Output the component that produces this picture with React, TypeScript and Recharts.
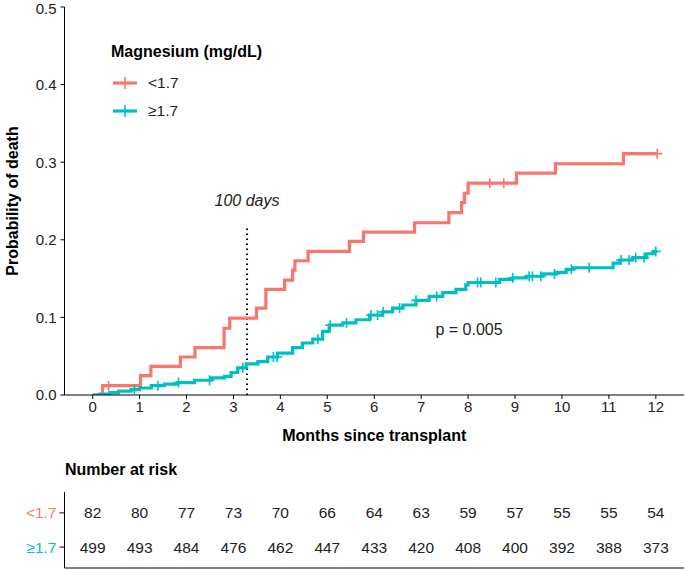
import React from 'react';
import {
  ComposedChart,
  Line,
  Scatter,
  XAxis,
  YAxis,
  ReferenceLine,
  ReferenceDot,
  Legend,
} from 'recharts';

const FONT = '"Liberation Sans", Arial, Helvetica, sans-serif';
const RED = '#F8766D';
const TEAL = '#00BFC4';
const TXT = '#222222';

// Kaplan-Meier style cumulative incidence, Mg < 1.7
const lowTimes = [0, 0.21, 1.02, 1.24, 1.87, 2.18, 2.8, 2.92, 3.49, 3.69, 4.09, 4.26, 4.31, 4.59, 5.47, 5.77, 6.86, 7.59, 7.86, 7.92, 8.0, 9.03, 9.86, 11.31, 12.03];
const lowProb = [0, 0.012, 0.025, 0.037, 0.049, 0.061, 0.086, 0.099, 0.112, 0.136, 0.148, 0.161, 0.173, 0.185, 0.198, 0.21, 0.222, 0.235, 0.248, 0.26, 0.273, 0.286, 0.298, 0.311, 0.311];
const lowCensor = [0.34, 8.46, 8.76, 12.03];

// Mg >= 1.7
const highTimes = [0, 0.15, 0.37, 0.55, 0.82, 1.0, 1.25, 1.53, 1.81, 2.17, 2.53, 2.81, 2.95, 3.09, 3.27, 3.52, 3.73, 3.94, 4.26, 4.47, 4.69, 4.9, 5.04, 5.33, 5.61, 5.9, 6.18, 6.39, 6.61, 6.89, 7.17, 7.46, 7.74, 7.95, 8.0, 8.67, 8.95, 9.24, 9.59, 9.88, 10.09, 10.24, 11.09, 11.23, 11.51, 11.8, 11.95, 12.03];
const highProb = [0, 0.001, 0.003, 0.005, 0.007, 0.009, 0.012, 0.014, 0.016, 0.019, 0.022, 0.024, 0.029, 0.035, 0.04, 0.043, 0.049, 0.054, 0.061, 0.067, 0.072, 0.082, 0.09, 0.093, 0.097, 0.103, 0.107, 0.112, 0.116, 0.122, 0.127, 0.132, 0.136, 0.142, 0.145, 0.149, 0.151, 0.153, 0.156, 0.158, 0.162, 0.164, 0.17, 0.174, 0.177, 0.182, 0.185, 0.185];
const highCensor = [0.89, 1.39, 1.83, 2.49, 3.2, 3.85, 3.93, 4.8, 5.06, 5.41, 5.93, 6.07, 6.19, 6.54, 6.89, 7.33, 8.2, 8.27, 8.59, 8.95, 9.3, 9.37, 9.55, 9.84, 10.2, 10.58, 11.26, 11.43, 11.57, 11.75, 12.0];

const xTicks = [0, 1, 2, 3, 4, 5, 6, 7, 8, 9, 10, 11, 12];
const yTicks = [0, 0.1, 0.2, 0.3, 0.4, 0.5];

// Number at risk
const riskMonths = [0, 1, 2, 3, 4, 5, 6, 7, 8, 9, 10, 11, 12];
const riskLow = [82, 80, 77, 73, 70, 66, 64, 63, 59, 57, 55, 55, 54];
const riskHigh = [499, 493, 484, 476, 462, 447, 433, 420, 408, 400, 392, 388, 373];

const groupLabels = ['<1.7', '\u22651.7'];
const groupColors = [RED, TEAL];

const DAY100 = 100 / 30.4;

function stepValue(times: number[], probs: number[], t: number) {
  let v = 0;
  for (let i = 0; i < times.length; i++) if (times[i] <= t + 1e-9) v = probs[i];
  return v;
}

const lowData = lowTimes.map((t, i) => ({ t, p: lowProb[i] }));
const highData = highTimes.map((t, i) => ({ t, p: highProb[i] }));
const lowCensorData = lowCensor.map((t) => ({ t, p: stepValue(lowTimes, lowProb, t) }));
const highCensorData = highCensor.map((t) => ({ t, p: stepValue(highTimes, highProb, t) }));

const ROW_LOW = 1.45;
const ROW_HIGH = 0.55;
const riskData = [
  ...riskMonths.map((t, i) => ({ t, row: ROW_LOW, n: riskLow[i] })),
  ...riskMonths.map((t, i) => ({ t, row: ROW_HIGH, n: riskHigh[i] })),
];

const makeCross = (color: string) => (props: any) => {
  const { cx, cy } = props;
  if (cx == null || cy == null) return null;
  return (
    <g>
      <line x1={cx} x2={cx} y1={cy - 5} y2={cy + 5} stroke={color} strokeWidth={1.6} />
      <line x1={cx - 5} x2={cx + 5} y1={cy} y2={cy} stroke={color} strokeWidth={1.6} />
    </g>
  );
};

const LegendContent = () => (
  <div style={{ fontFamily: FONT, color: '#000' }}>
    <div style={{ fontWeight: 'bold', fontSize: 16, lineHeight: '20px' }}>Magnesium (mg/dL)</div>
    {groupLabels.map((g, i) => (
      <div key={g} style={{ display: 'flex', alignItems: 'center', height: 28, marginTop: i === 0 ? 7 : 0 }}>
        <svg width={26} height={14} style={{ marginLeft: 2 }}>
          <line x1={0} x2={24} y1={7} y2={7} stroke={groupColors[i]} strokeWidth={3.2} />
          <line x1={12} x2={12} y1={1} y2={13} stroke={groupColors[i]} strokeWidth={1.6} />
        </svg>
        <span style={{ fontSize: 15.5, marginLeft: 9, color: TXT }}>{g}</span>
      </div>
    ))}
  </div>
);

const YTitle = (props: any) => {
  const vb = props.viewBox || { x: 0, y: 0, height: 0 };
  const x = vb.x + 12;
  const y = vb.y + vb.height / 2;
  return (
    <text x={x} y={y} transform={`rotate(-90 ${x} ${y})`} textAnchor="middle" dominantBaseline="central"
      fontFamily={FONT} fontWeight="bold" fontSize={16} fill="#000">
      Probability of death
    </text>
  );
};

const RiskTick = (props: any) => {
  const { x, y, payload } = props;
  const isLow = Math.abs(payload.value - ROW_LOW) < 1e-6;
  return (
    <text x={x} y={y} textAnchor="end" dominantBaseline="central" fontFamily={FONT} fontSize={15.5}
      fill={isLow ? RED : TEAL}>
      {isLow ? groupLabels[0] : groupLabels[1]}
    </text>
  );
};

const RiskNumber = (props: any) => {
  const { cx, cy, payload } = props;
  if (cx == null || cy == null) return null;
  return (
    <text x={cx} y={cy} textAnchor="middle" dominantBaseline="central" fontFamily={FONT} fontSize={15.5} fill={TXT}>
      {payload.n}
    </text>
  );
};

export default function App() {
  return (
    <div style={{ position: 'absolute', left: 0, top: 0, width: 685, height: 570, background: '#fff', fontFamily: FONT }}>
      <div style={{ position: 'absolute', left: 0, top: 0 }}>
        <ComposedChart width={685} height={445} margin={{ top: 7, right: 1, left: 0.5, bottom: 0 }}>
          <XAxis
            dataKey="t"
            type="number"
            domain={[-0.6, 12.6]}
            ticks={xTicks}
            allowDataOverflow
            tickSize={4}
            tickMargin={2}
            height={50}
            stroke="#000"
            tick={{ fontFamily: FONT, fontSize: 15, fill: TXT }}
            label={{ value: 'Months since transplant', position: 'insideBottom', offset: 4, fontFamily: FONT, fontWeight: 'bold', fontSize: 16, fill: '#000' }}
          />
          <YAxis
            type="number"
            domain={[0, 0.5]}
            ticks={yTicks}
            allowDataOverflow
            width={64}
            tickSize={4}
            tickMargin={4}
            stroke="#000"
            tickFormatter={(v: number) => v.toFixed(1)}
            tick={{ fontFamily: FONT, fontSize: 15, fill: TXT }}
            label={<YTitle />}
          />
          <ReferenceLine
            segment={[{ x: DAY100, y: 0 }, { x: DAY100, y: 0.218 }]}
            stroke="#000"
            strokeWidth={2}
            strokeDasharray="1.5 3.5"
          />
          <ReferenceDot x={DAY100} y={0.251} r={0} fill="none" stroke="none"
            label={{ value: '100 days', position: 'center', fontFamily: FONT, fontStyle: 'italic', fontSize: 16, fill: TXT }} />
          <ReferenceDot x={8.02} y={0.084} r={0} fill="none" stroke="none"
            label={{ value: 'p = 0.005', position: 'center', fontFamily: FONT, fontSize: 16, fill: TXT }} />
          <Line data={lowData} dataKey="p" type="stepAfter" stroke={RED} strokeWidth={3.2} dot={false} isAnimationActive={false} />
          <Line data={highData} dataKey="p" type="stepAfter" stroke={TEAL} strokeWidth={3.2} dot={false} isAnimationActive={false} />
          <Scatter data={lowCensorData} dataKey="p" shape={makeCross(RED)} isAnimationActive={false} />
          <Scatter data={highCensorData} dataKey="p" shape={makeCross(TEAL)} isAnimationActive={false} />
          <Legend
            layout="horizontal"
            verticalAlign="middle"
            align="center"
            content={<LegendContent />}
            wrapperStyle={{ position: 'absolute', left: 111, top: 42, width: 220, height: 90 }}
          />
        </ComposedChart>
      </div>
      <div style={{ position: 'absolute', left: 65, top: 460, fontFamily: FONT, fontWeight: 'bold', fontSize: 16, color: '#000', lineHeight: '20px' }}>
        Number at risk
      </div>
      <div style={{ position: 'absolute', left: 0, top: 440 }}>
        <ComposedChart width={685} height={130} data={riskData} margin={{ top: 52, right: 1, left: 0.5, bottom: 0 }}>
          <XAxis dataKey="t" type="number" domain={[-0.6, 12.6]} ticks={xTicks} tick={false} tickLine={false} height={2} stroke="#000" />
          <YAxis type="number" domain={[0, 2]} ticks={[ROW_HIGH, ROW_LOW]} width={64} tickSize={5} tickMargin={3} stroke="#000" tick={<RiskTick />} />
          <Scatter dataKey="row" shape={<RiskNumber />} isAnimationActive={false} />
        </ComposedChart>
      </div>
    </div>
  );
}
